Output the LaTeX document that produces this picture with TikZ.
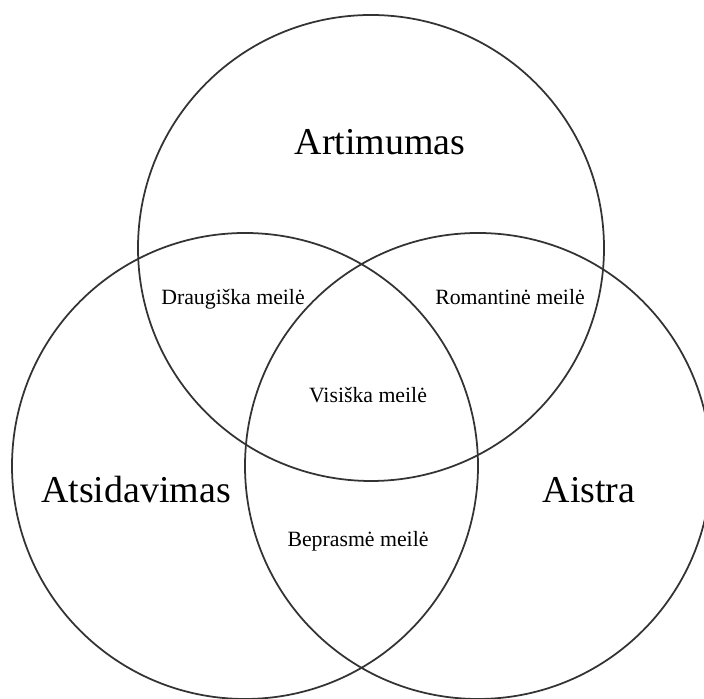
\documentclass[tikz,border=0pt]{standalone}
\usepackage{fontspec}
\setmainfont{Liberation Serif}
\tikzset{
  big/.style={anchor=base,inner sep=0pt,font=\fontsize{27pt}{32pt}\selectfont},
  small/.style={anchor=base,inner sep=0pt,font=\fontsize{15.5pt}{18pt}\selectfont},
  ring/.style={draw=black!80,line width=1.25pt}
}
\begin{document}
\begin{tikzpicture}
      \useasboundingbox (0,0) rectangle (17.6,17.475);
      \clip (0,0) rectangle (17.6,17.475);
      \begin{scope}[ring]
        \draw (9.275,11.275) circle (5.825);
        \draw (6.125,5.825) circle (5.825);
        \draw (11.95,5.825) circle (5.825);
      \end{scope}
      \path
        (9.5,13.6) node[big] (artimumas){Artimumas}
        (3.4,4.9) node[big] (atsidavimas){Atsidavimas}
        (14.725,4.9) node[big] (aistra){Aistra}
        (5.825,9.85) node[small] (draugiska){Draugiška meilė}
        (12.75,9.85) node[small] (romantine){Romantinė meilė}
        (9.2,7.4) node[small] (visiska){Visiška meilė}
        (8.95,3.8) node[small] (beprasme){Beprasmė meilė};
    \end{tikzpicture}
\end{document}
